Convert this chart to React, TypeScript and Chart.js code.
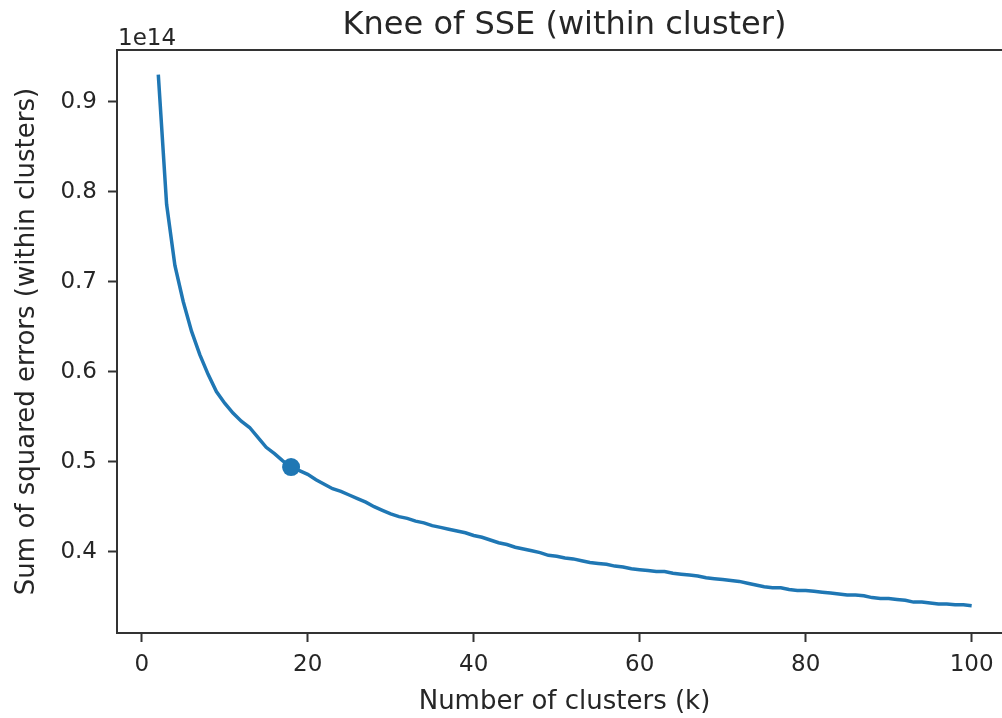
import React, { useEffect, useRef } from 'react';
import { Chart, registerables } from 'chart.js';

Chart.register(...registerables);

// Number of clusters (k)
const kValues = [
  2, 3, 4, 5, 6, 7, 8, 9, 10, 11, 12, 13, 14, 15, 16, 17, 18, 19, 20, 21,
  22, 23, 24, 25, 26, 27, 28, 29, 30, 31, 32, 33, 34, 35, 36, 37, 38, 39, 40, 41,
  42, 43, 44, 45, 46, 47, 48, 49, 50, 51, 52, 53, 54, 55, 56, 57, 58, 59, 60, 61,
  62, 63, 64, 65, 66, 67, 68, 69, 70, 71, 72, 73, 74, 75, 76, 77, 78, 79, 80, 81,
  82, 83, 84, 85, 86, 87, 88, 89, 90, 91, 92, 93, 94, 95, 96, 97, 98, 99, 100,
];

// SSE (within clusters), in units of 1e14
const sseValues = [
  0.930, 0.786, 0.718, 0.678, 0.645, 0.619, 0.597, 0.578, 0.565, 0.554,
  0.545, 0.538, 0.527, 0.516, 0.509, 0.501, 0.494, 0.490, 0.486, 0.480,
  0.475, 0.470, 0.467, 0.463, 0.459, 0.455, 0.450, 0.446, 0.442, 0.439,
  0.437, 0.434, 0.432, 0.429, 0.427, 0.425, 0.423, 0.421, 0.418, 0.416,
  0.413, 0.410, 0.408, 0.405, 0.403, 0.401, 0.399, 0.396, 0.395, 0.393,
  0.392, 0.390, 0.388, 0.387, 0.386, 0.384, 0.383, 0.381, 0.380, 0.379,
  0.378, 0.378, 0.376, 0.375, 0.374, 0.373, 0.371, 0.370, 0.369, 0.368,
  0.367, 0.365, 0.363, 0.361, 0.360, 0.360, 0.358, 0.357, 0.357, 0.356,
  0.355, 0.354, 0.353, 0.352, 0.352, 0.351, 0.349, 0.348, 0.348, 0.347,
  0.346, 0.344, 0.344, 0.343, 0.342, 0.342, 0.341, 0.341, 0.340,
];

// Knee point
const kneeK = [18];
const kneeSSE = [0.494];

const xTicks = [0, 20, 40, 60, 80, 100];
const yTicks = [0.4, 0.5, 0.6, 0.7, 0.8, 0.9];

const titleText = 'Knee of SSE (within cluster)';
const xLabel = 'Number of clusters (k)';
const yLabel = 'Sum of squared errors (within clusters)';
const offsetText = '1e14';

const FONT = '"DejaVu Sans", sans-serif';
const TEXT = '#262626';
const SPINE = '#333333';
const BLUE = '#1f77b4';

export default function App() {
  const ref = useRef<HTMLCanvasElement>(null);

  useEffect(() => {
    const canvas = ref.current;
    if (!canvas) return;

    const framePlugin = {
      id: 'frame',
      afterDraw(chart: any) {
        const { ctx, chartArea: a } = chart;
        ctx.save();
        ctx.strokeStyle = SPINE;
        ctx.lineWidth = 2;
        ctx.strokeRect(a.left, a.top, a.right - a.left, a.bottom - a.top);
        ctx.fillStyle = TEXT;
        ctx.font = `23px ${FONT}`;
        ctx.textAlign = 'left';
        ctx.textBaseline = 'alphabetic';
        ctx.fillText(offsetText, a.left + 1, a.top - 5);
        ctx.restore();
      },
    };

    const chart = new Chart(canvas, {
      type: 'line',
      data: {
        datasets: [
          {
            label: 'SSE',
            data: kValues.map((k, i) => ({ x: k, y: sseValues[i] })),
            borderColor: BLUE,
            backgroundColor: BLUE,
            borderWidth: 3.5,
            pointRadius: 0,
            tension: 0,
            fill: false,
            order: 2,
          },
          {
            label: 'Knee',
            data: kneeK.map((k, i) => ({ x: k, y: kneeSSE[i] })),
            borderColor: BLUE,
            backgroundColor: BLUE,
            showLine: false,
            pointRadius: 9,
            pointBorderWidth: 0,
            order: 1,
          },
        ],
      },
      plugins: [framePlugin],
      options: {
        responsive: false,
        animation: false,
        devicePixelRatio: 1,
        layout: { padding: { left: 0, right: 28, top: 0, bottom: 0 } },
        plugins: {
          legend: { display: false },
          tooltip: { enabled: false },
          title: {
            display: true,
            text: titleText,
            fullSize: false,
            color: TEXT,
            font: { family: FONT, size: 32, weight: 'normal' },
            padding: { top: 6, bottom: 5.6 },
          },
        },
        scales: {
          x: {
            type: 'linear',
            min: -2.976,
            max: 104.86,
            afterBuildTicks: (s: any) => {
              s.ticks = xTicks.map((v) => ({ value: v }));
            },
            afterFit: (s: any) => {
              s.height = 85;
            },
            border: { display: false },
            grid: {
              drawOnChartArea: false,
              drawTicks: true,
              tickLength: 9,
              tickColor: SPINE,
              tickWidth: 2,
            },
            ticks: {
              color: TEXT,
              font: { family: FONT, size: 23 },
              padding: 9,
              maxRotation: 0,
              autoSkip: false,
              callback: (v: any) => String(v),
            },
            title: {
              display: true,
              text: xLabel,
              color: TEXT,
              font: { family: FONT, size: 26 },
              padding: { top: 0, bottom: 0 },
            },
          },
          y: {
            type: 'linear',
            min: 0.30967,
            max: 0.9574,
            afterBuildTicks: (s: any) => {
              s.ticks = yTicks.map((v) => ({ value: v }));
            },
            afterFit: (s: any) => {
              s.width = 117;
            },
            border: { display: false },
            grid: {
              drawOnChartArea: false,
              drawTicks: true,
              tickLength: 9,
              tickColor: SPINE,
              tickWidth: 2,
            },
            ticks: {
              color: TEXT,
              font: { family: FONT, size: 23 },
              padding: 11,
              autoSkip: false,
              callback: (v: any) => Number(v).toFixed(1),
            },
            title: {
              display: true,
              text: yLabel,
              color: TEXT,
              font: { family: FONT, size: 26 },
              padding: { top: 12, bottom: 0 },
            },
          },
        },
      },
    });

    return () => chart.destroy();
  }, []);

  return (
    <div
      style={{
        position: 'absolute',
        left: 0,
        top: 0,
        width: 1002,
        height: 718,
        overflow: 'hidden',
        background: '#ffffff',
      }}
    >
      <canvas ref={ref} width={1040} height={718} style={{ display: 'block' }} />
    </div>
  );
}
